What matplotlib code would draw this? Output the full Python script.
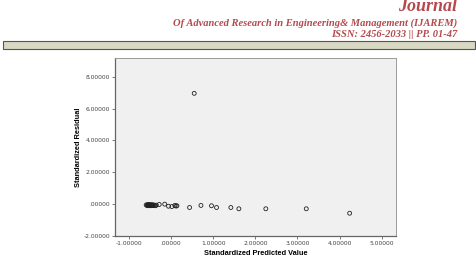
import matplotlib
matplotlib.use("Agg")
import matplotlib.pyplot as plt
from matplotlib.patches import Rectangle

# predicted value (x) / residual (y)
pred = [-0.59, -0.57, -0.56, -0.55, -0.54, -0.53, -0.52, -0.51, -0.50, -0.49,
        -0.48, -0.47, -0.46, -0.45, -0.44, -0.43, -0.41, -0.39, -0.37, -0.35,
        -0.28, -0.15, -0.06, 0.02, 0.09, 0.12, 0.14, 0.55, 0.44, 0.71,
        0.96, 1.08, 1.42, 1.61, 2.25, 3.21, 4.24]
resid = [-0.05, -0.08, -0.03, -0.10, -0.06, -0.02, -0.09, -0.05, -0.07, -0.04,
         -0.10, -0.06, -0.08, -0.03, -0.07, -0.09, -0.05, -0.08, -0.10, -0.06,
         -0.02, 0.00, -0.13, -0.15, -0.08, -0.12, -0.10, 6.96, -0.21, -0.08,
         -0.10, -0.21, -0.21, -0.29, -0.29, -0.29, -0.57]

xticks = [-1, 0, 1, 2, 3, 4, 5]
xlabels = ["-1.00000", ".00000", "1.00000", "2.00000", "3.00000", "4.00000", "5.00000"]
yticks = [-2, 0, 2, 4, 6, 8]
ylabels = ["-2.00000", ".00000", "2.00000", "4.00000", "6.00000", "8.00000"]

W, H = 477, 262
fig = plt.figure(figsize=(W / 100, H / 100), dpi=100)
fig.patch.set_facecolor("white")

red = "#b34a4e"
serif = dict(family="Liberation Serif", weight="bold", style="italic", color=red)
fig.text(457 / W, 1 - 11 / H, "Journal", ha="right", va="baseline", fontsize=13, **serif)
fig.text(457 / W, 1 - 25.5 / H, "Of Advanced Research in Engineering& Management (IJAREM)",
         ha="right", va="baseline", fontsize=7.6, **serif)
fig.text(457 / W, 1 - 37 / H, "ISSN: 2456-2033 || PP. 01-47",
         ha="right", va="baseline", fontsize=7.6, **serif)

# header rule
fig.patches.append(Rectangle((3 / W, 1 - 49 / H), 472 / W, 8 / H, transform=fig.transFigure,
                             facecolor="#d9d8c2", edgecolor="#555555", linewidth=0.8))

ax = fig.add_axes([115 / W, 26 / H, 281 / W, 178 / H])
ax.set_facecolor("#f0f0f0")
ax.scatter(pred, resid, s=8, facecolors="none", edgecolors="#222222", linewidths=0.6)
ax.set_xlim(-1.33, 5.34)
ax.set_ylim(-2, 9.18)
ax.set_xticks(xticks)
ax.set_xticklabels(xlabels)
ax.set_yticks(yticks)
ax.set_yticklabels(ylabels)
ax.tick_params(labelsize=4.3, length=2, width=0.5, pad=1.5, colors="#444444")
for s in ["left", "bottom"]:
    ax.spines[s].set_color("#666666")
    ax.spines[s].set_linewidth(0.9)
for s in ["top", "right"]:
    ax.spines[s].set_color("#9a9a9a")
    ax.spines[s].set_linewidth(0.7)
ax.set_xlabel("Standardized Predicted Value", fontsize=5.3, fontweight="bold",
              family="Liberation Sans", labelpad=3)
ax.set_ylabel("Standardized Residual", fontsize=5.3, fontweight="bold",
              family="Liberation Sans", labelpad=1)

fig.savefig("out.png", dpi=100)
